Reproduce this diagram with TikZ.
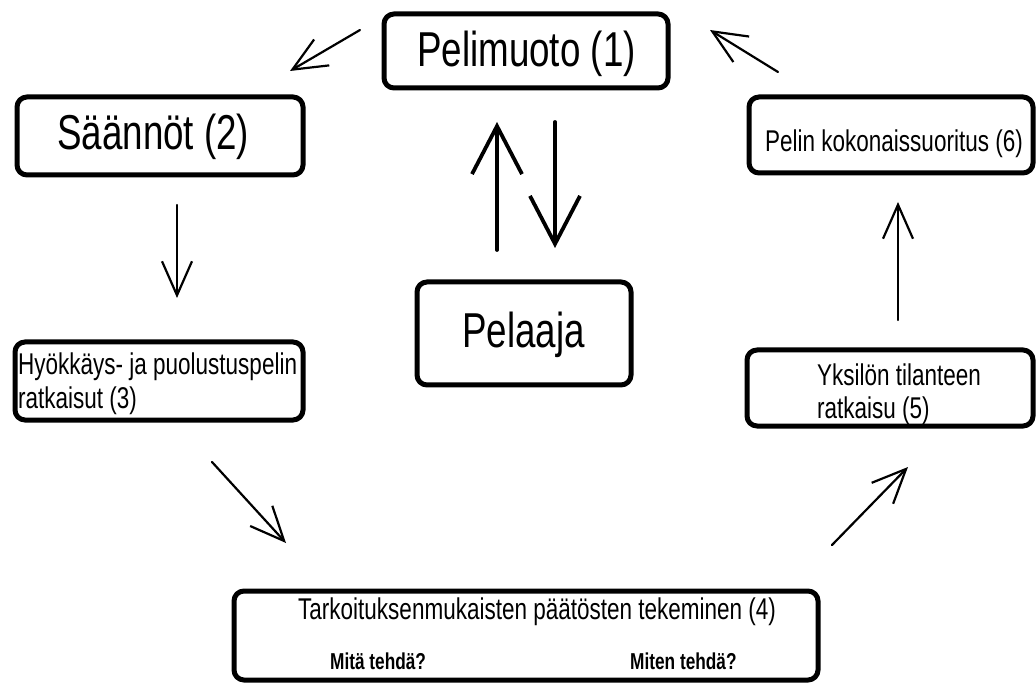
\documentclass[tikz,border=0pt]{standalone}
\usepackage{fontspec}
\usetikzlibrary{arrows.meta}
\newfontfamily\diagfont[FakeStretch=0.75]{Liberation Sans}
\begin{document}
\begin{tikzpicture}[x=1pt,y=-1pt,
  box/.style={draw, line width=5pt, rounded corners=10pt, inner sep=0pt},
  lbl/.style={inner sep=0pt, anchor=base west},
  big/.style={font=\fontsize{49}{55}\selectfont\diagfont},
  mid/.style={font=\fontsize{30}{33}\selectfont\diagfont},
  small/.style={font=\fontsize{23}{26}\selectfont\diagfont\bfseries},
  thinarrow/.style={line width=2.2pt, line cap=round, -{Straight Barb[length=34pt,width=30pt]}},
  thickarrow/.style={line width=3.8pt, line cap=round, -{Straight Barb[length=48pt,width=50pt]}}]

% canvas
\fill[white] (0,0) rectangle (1036,684);
\useasboundingbox (0,0) rectangle (1036,684);

% boxes
\node[box, minimum width=284pt, minimum height=74pt]  (pm) at (526,51)    {};
\node[box, minimum width=286pt, minimum height=78pt]  (sa) at (160,136)   {};
\node[box, minimum width=288pt, minimum height=78pt]  (hy) at (159,381)   {};
\node[box, minimum width=284pt, minimum height=76pt]  (pe) at (891,135)   {};
\node[box, minimum width=286pt, minimum height=76pt]  (yk) at (890,388)   {};
\node[box, minimum width=214pt, minimum height=103pt] (pl) at (524,333.5) {};
\node[box, minimum width=584pt, minimum height=89pt]  (tk) at (526,635.5) {};

% labels (two-line labels are anchored on their last baseline)
\node[lbl, big] (pmText) at (417,67)  {Pelimuoto (1)};
\node[lbl, big] (saText) at (57,150)  {Säännöt (2)};
\node[lbl, big] (plText) at (462,348) {Pelaaja};
\node[lbl, mid] (peText) at (765,152) {Pelin kokonaissuoritus (6)};
\node[lbl, mid, align=left] (hyText) at (18,408)  {Hyökkäys- ja puolustuspelin\\ratkaisut (3)};
\node[lbl, mid, align=left] (ykText) at (817,418) {Yksilön tilanteen\\ratkaisu (5)};
\node[lbl, mid] (tkText) at (298,619) {Tarkoituksenmukaisten päätösten tekeminen (4)};
\node[lbl, small] (mitaText)  at (330,669) {Mitä tehdä?};
\node[lbl, small] (mitenText) at (630,669) {Miten tehdä?};

% arrow end points
\coordinate (pmOut)  at (360,30);  \coordinate (saIn)   at (290,71);
\coordinate (saOut)  at (177,205); \coordinate (hyIn)   at (177,298);
\coordinate (hyOut)  at (212,462); \coordinate (tkIn)   at (286,543);
\coordinate (tkOut)  at (832,545); \coordinate (ykIn)   at (908,467);
\coordinate (ykOut)  at (898,320); \coordinate (peIn)   at (898,202);
\coordinate (peOut)  at (778,72);  \coordinate (pmIn)   at (710,30);
\coordinate (plUp)   at (497,250); \coordinate (pmDown) at (497,122);
\coordinate (pmOut2) at (555,122); \coordinate (plIn)   at (555,248);

% cycle arrows
\draw[thinarrow] (pmOut) -- (saIn);
\draw[thinarrow] (saOut) -- (hyIn);
\draw[thinarrow] (hyOut) -- (tkIn);
\draw[thinarrow] (tkOut) -- (ykIn);
\draw[thinarrow] (ykOut) -- (peIn);
\draw[thinarrow] (peOut) -- (pmIn);

% player <-> game form
\draw[thickarrow] (plUp) -- (pmDown);
\draw[thickarrow] (pmOut2) -- (plIn);
\end{tikzpicture}
\end{document}
